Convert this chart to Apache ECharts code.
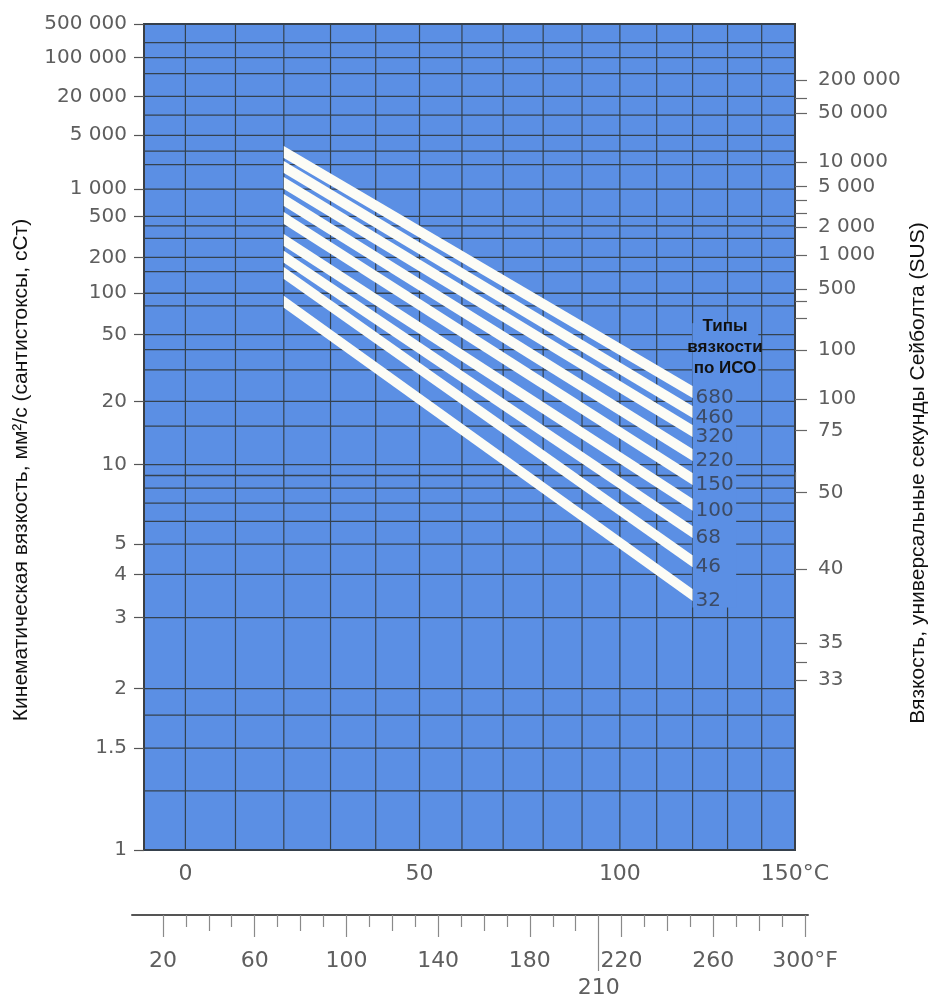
<!DOCTYPE html>
<html><head><meta charset="utf-8">
<script src="https://cdn.jsdelivr.net/npm/echarts@6/dist/echarts.min.js"></script>
<style>html,body{margin:0;padding:0;background:#fff}#c{width:932px;height:1002px}</style>
</head><body><div id="c"></div>
<script>
// ---------------- data ----------------
// left axis: kinematic viscosity, cSt
const kinLabelValues = [500000, 100000, 20000, 5000, 1000, 500, 200, 100, 50, 20, 10, 5, 4, 3, 2, 1.5, 1];
const kinLabelTexts  = ['500 000','100 000','20 000','5 000','1 000','500','200','100','50','20','10','5','4','3','2','1.5','1'];
const kinGridValues  = [1, 1.25, 1.5, 1.75, 2, 3, 4, 5, 6, 7, 8, 9, 10, 15, 20, 30, 40, 50, 80, 100, 150, 200, 300, 400, 500,
                        1000, 2000, 3000, 5000, 10000, 20000, 50000, 100000, 200000, 500000];
// right axis: Saybolt universal seconds, placed at their cSt equivalent
const susLabelTexts = ['200 000','50 000','10 000','5 000','2 000','1 000','500','100','100','75','50','40','35','33'];
const susLabelCst   = [38400, 10795, 2159, 1080, 390, 210, 108, 39.7, 20.65, 14.3, 7.7, 4.15, 2.57, 2.09];
const susMinorCst   = [18900, 753, 543, 86.4, 64.7, 2.30];
// temperature, °C
const tempGridC  = [0, 10, 20, 30, 40, 50, 60, 70, 80, 90, 100, 110, 120, 130, 140];
const tempLabelC = [0, 50, 100, 150];
const tempLabelCTexts = ['0', '50', '100', '150°C'];
// temperature, °F
const fLabelTicks = [20, 60, 100, 140, 180, 220, 260, 300];
const fLabelTexts = ['20', '60', '100', '140', '180', '220', '260', '300°F'];
const fMidTicks   = [40, 80, 120, 160, 200, 240, 280];
const fMinorTicks = [30, 50, 70, 90, 110, 130, 150, 170, 190, 230, 250, 270, 290];
const fSpecialTicks = [210];
const fSpecialTexts = ['210'];
// ISO viscosity grades: viscosity (cSt) at the two ends of each band
const isoGrades  = ['680', '460', '320', '220', '150', '100', '68', '46', '32'];
const isoTemps   = [20, 120];
const isoVisc20  = [2930, 1860, 1185, 753, 482, 290, 202, 146, 86];
const isoVisc120 = [22.5, 17.6, 14.2, 11.0, 8.7, 6.9, 5.5, 4.4, 3.47];

// ---------------- scales ----------------
const W = v => Math.log10(Math.log10(v + 0.7));   // Walther viscosity scale
const X = t => Math.log10(t + 273.15);             // log absolute temperature
const kinMin = 1, kinMax = 500000;
const tMinC = -8, tMaxC = 150;
const fMin = 6.5, fMax = 301.3;

function fmtBy(vals, texts, tf) {
  const ws = vals.map(tf);
  return function (val) {
    let bi = 0, bd = Infinity;
    ws.forEach((w, i) => { const d = Math.abs(w - val); if (d < bd) { bd = d; bi = i; } });
    return texts[bi];
  };
}
const ident = v => v;

const FONT = 'DejaVu Sans';
const GRAY = '#5e5e5e';
const BLUE = '#5b8fe4';
const GRIDC = '#34424f';

const chart = echarts.init(document.getElementById('c'), null, {renderer: 'canvas'});

function hLine(params, api) {
  const y = api.value(1);
  const p1 = api.coord([X(tMinC), y]);
  const p2 = api.coord([X(tMaxC), y]);
  return {type: 'line', shape: {x1: p1[0], y1: p1[1], x2: p2[0], y2: p2[1]},
          style: {stroke: GRIDC, lineWidth: 1.3}};
}
function vLine(params, api) {
  const x = api.value(0);
  const p1 = api.coord([x, W(kinMin)]);
  const p2 = api.coord([x, W(kinMax)]);
  return {type: 'line', shape: {x1: p1[0], y1: p1[1], x2: p2[0], y2: p2[1]},
          style: {stroke: GRIDC, lineWidth: 1.2}};
}
// blank areas around the grade labels (x1,y1,x2,y2 in °C / cSt)
const coverBoxes = [[120, 3.2, 132.5, 60], [120, 23, 139, 60]];
function coverRect(params, api) {
  const a = api.coord([api.value(0), api.value(1)]);
  const b = api.coord([api.value(2), api.value(3)]);
  return {type: 'rect', shape: {x: Math.min(a[0], b[0]), y: Math.min(a[1], b[1]),
          width: Math.abs(b[0] - a[0]), height: Math.abs(b[1] - a[1])},
          style: {fill: BLUE}};
}
function band(params, api) {
  const a = api.coord([api.value(0), api.value(1)]);
  const b = api.coord([api.value(2), api.value(3)]);
  const h = 6;
  return {type: 'group', children: [
    {type: 'polygon', shape: {points: [[a[0], a[1] - h], [b[0], b[1] - h], [b[0], b[1] + h], [a[0], a[1] + h]]},
     style: {fill: '#fcfcf6'}},
    {type: 'text', x: b[0] + 3, y: b[1] + 6,
     style: {text: isoGrades[params.dataIndex], fill: '#3c4b66', font: '20px "' + FONT + '"',
             textAlign: 'left', textVerticalAlign: 'middle'}}
  ]};
}

const option = {
  animation: false,
  backgroundColor: '#ffffff',
  grid: [
    {left: 144, top: 24, width: 651, height: 826, show: true, backgroundColor: BLUE,
     borderColor: '#3a3f46', borderWidth: 2},
    {left: 132, top: 900, width: 676, height: 15, show: false}
  ],
  xAxis: [
    {type: 'value', gridIndex: 0, position: 'bottom', min: X(tMinC), max: X(tMaxC),
     axisLine: {show: false}, splitLine: {show: false},
     axisTick: {show: true, customValues: tempLabelC.map(X), length: 8, lineStyle: {color: '#666', width: 1.2}},
     axisLabel: {customValues: tempLabelC.map(X), formatter: fmtBy(tempLabelC, tempLabelCTexts, X),
                 fontSize: 22, color: GRAY, fontFamily: FONT, margin: 13}},
    {type: 'value', gridIndex: 1, position: 'bottom', min: fMin, max: fMax,
     axisLine: {show: true, lineStyle: {color: '#555', width: 2}}, splitLine: {show: false},
     axisTick: {show: true, customValues: fMinorTicks, length: 12, lineStyle: {color: '#8a8a8a', width: 1.2}},
     axisLabel: {show: false}},
    {type: 'value', gridIndex: 1, position: 'bottom', min: fMin, max: fMax,
     axisLine: {show: false}, splitLine: {show: false},
     axisTick: {show: true, customValues: fMidTicks, length: 16, lineStyle: {color: '#8a8a8a', width: 1.2}},
     axisLabel: {show: false}},
    {type: 'value', gridIndex: 1, position: 'bottom', min: fMin, max: fMax,
     axisLine: {show: false}, splitLine: {show: false},
     axisTick: {show: true, customValues: fLabelTicks, length: 22, lineStyle: {color: '#8a8a8a', width: 1.2}},
     axisLabel: {customValues: fLabelTicks, formatter: fmtBy(fLabelTicks, fLabelTexts, ident),
                 fontSize: 22, color: GRAY, fontFamily: FONT, margin: 35}},
    {type: 'value', gridIndex: 1, position: 'bottom', min: fMin, max: fMax,
     axisLine: {show: false}, splitLine: {show: false},
     axisTick: {show: true, customValues: fSpecialTicks, length: 56, lineStyle: {color: '#8a8a8a', width: 1.2}},
     axisLabel: {customValues: fSpecialTicks, formatter: fmtBy(fSpecialTicks, fSpecialTexts, ident),
                 fontSize: 22, color: GRAY, fontFamily: FONT, margin: 62}}
  ],
  yAxis: [
    {type: 'value', gridIndex: 0, position: 'left', min: W(kinMin), max: W(kinMax),
     axisLine: {show: false}, splitLine: {show: false},
     axisTick: {show: true, customValues: kinLabelValues.map(W), length: 10, lineStyle: {color: '#555', width: 1.2}},
     axisLabel: {customValues: kinLabelValues.map(W), formatter: fmtBy(kinLabelValues, kinLabelTexts, W),
                 fontSize: 20, color: GRAY, fontFamily: FONT, margin: 17}},
    {type: 'value', gridIndex: 0, position: 'right', min: W(kinMin), max: W(kinMax),
     axisLine: {show: false}, splitLine: {show: false},
     axisTick: {show: true, customValues: susLabelCst.concat(susMinorCst).map(W), length: 12,
                lineStyle: {color: '#666', width: 1.2}},
     axisLabel: {customValues: susLabelCst.map(W), formatter: fmtBy(susLabelCst, susLabelTexts, W),
                 fontSize: 20, color: GRAY, fontFamily: FONT, margin: 23}},
    {type: 'value', gridIndex: 1, show: false, min: 0, max: 1}
  ],
  series: [
    {type: 'custom', name: 'hgrid', xAxisIndex: 0, yAxisIndex: 0, z: 2, silent: true,
     encode: {x: 0, y: 1}, renderItem: hLine,
     data: kinGridValues.map(v => [X(tMinC), W(v)])},
    {type: 'custom', name: 'vgrid', xAxisIndex: 0, yAxisIndex: 0, z: 2, silent: true,
     encode: {x: 0, y: 1}, renderItem: vLine,
     data: tempGridC.map(t => [X(t), W(kinMin)])},
    {type: 'custom', name: 'cover', xAxisIndex: 0, yAxisIndex: 0, z: 3, silent: true,
     encode: {x: [0, 2], y: [1, 3]}, renderItem: coverRect,
     data: coverBoxes.map(b => [X(b[0]), W(b[1]), X(b[2]), W(b[3])])},
    {type: 'custom', name: 'iso', xAxisIndex: 0, yAxisIndex: 0, z: 4, silent: true,
     encode: {x: [0, 2], y: [1, 3]}, renderItem: band,
     data: isoGrades.map((g, i) => [X(isoTemps[0]), W(isoVisc20[i]), X(isoTemps[1]), W(isoVisc120[i])])}
  ],
  graphic: [
    {type: 'text', x: 21, y: 470, rotation: Math.PI / 2, z: 10,
     style: {text: 'Кинематическая вязкость, мм²/с (сантистоксы, сСт)', fill: '#111',
             font: '21px "Liberation Sans"', textAlign: 'center', textVerticalAlign: 'middle'}},
    {type: 'text', x: 918, y: 473, rotation: Math.PI / 2, z: 10,
     style: {text: 'Вязкость, универсальные секунды Сейболта (SUS)', fill: '#111',
             font: '21px "Liberation Sans"', textAlign: 'center', textVerticalAlign: 'middle'}},
    {type: 'text', x: 725, y: 347, z: 10,
     style: {text: 'Типы\nвязкости\nпо ИСО', fill: '#111', font: 'bold 17px "Liberation Sans"',
             lineHeight: 21, textAlign: 'center', textVerticalAlign: 'middle'}}
  ]
};
chart.setOption(option);
</script></body></html>
